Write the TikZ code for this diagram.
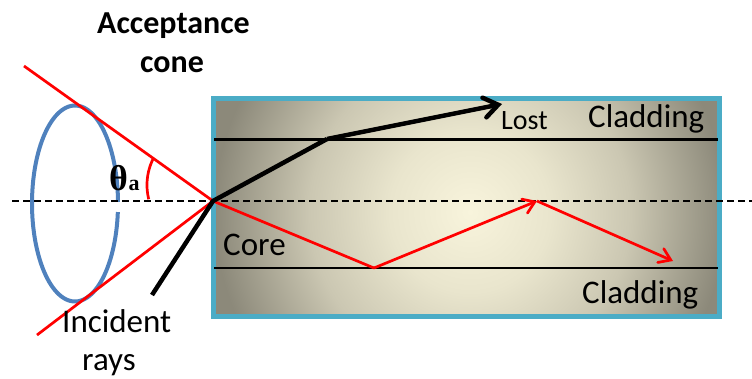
\documentclass[tikz,border=0pt]{standalone}
\usepackage{fontspec}
\setmainfont{Carlito}
\newfontfamily\thetafont{Liberation Serif}
\usetikzlibrary{arrows.meta}
\definecolor{fibreedge}{RGB}{75,172,198}
\definecolor{ellblue}{RGB}{79,129,189}
\definecolor{glowin}{RGB}{248,244,220}
\definecolor{glowa}{RGB}{233,229,205}
\definecolor{glowb}{RGB}{203,199,178}
\definecolor{glowout}{RGB}{140,137,122}
\definecolor{rayred}{RGB}{255,0,0}
\pgfdeclareradialshading{fibreglow}{\pgfpoint{0bp}{0bp}}{color(0bp)=(glowin); color(80bp)=(glowa); color(160bp)=(glowb); color(255bp)=(glowout); color(300bp)=(glowout)}
\tikzset{
  txt/.style={inner sep=0pt, anchor=base west, font=\fontsize{33}{40}\selectfont},
  redray/.style={draw=rayred, line width=2.7pt, line join=round},
  redtip/.style={-{Straight Barb[length=11pt,width=15pt,line cap=round]}},
  blackray/.style={draw=black, line width=4.5pt, line join=round},
  cladline/.style={draw=black, line width=2.8pt},
  axisline/.style={draw=black, line width=1.8pt, dash pattern=on 7pt off 4pt}
}
\begin{document}
\begin{tikzpicture}[x=1pt,y=-1pt]
\useasboundingbox (0,0) rectangle (752,378);
% key points
\coordinate (launch) at (213,201);
\coordinate (coneA) at (24,66);
\coordinate (coneB) at (37,335);
\coordinate (bounce1) at (374,268);
\coordinate (bounce2) at (537,201);
\coordinate (redend) at (673,261);
\coordinate (inc) at (152,295);
\coordinate (bend) at (327,139);
\coordinate (lostend) at (502,104);
\coordinate (axL) at (12,201);
\coordinate (axR) at (752,201);
\coordinate (boxNW) at (213,98.5);
\coordinate (boxSE) at (719,316);
\coordinate (glowc) at (470,212);
\coordinate (clTL) at (214,139.5);
\coordinate (clTR) at (718,139.5);
\coordinate (clBL) at (214,268);
\coordinate (clBR) at (718,268);
% acceptance cone ellipse
\draw[ellblue, line width=4pt] plot[smooth, domain=5:359, samples=120] ({75+43*cos(\x)},{203.5+98*sin(\x)});
% fibre box
\begin{scope}
  \clip (boxNW) rectangle (boxSE);
  \node[inner sep=0pt, outer sep=0pt] (glow) at (glowc) {\pgfuseshading{fibreglow}};
\end{scope}
\draw[fibreedge, line width=5pt] (boxNW) rectangle (boxSE);
\draw[cladline] (clTL) -- (clTR);
\draw[cladline] (clBL) -- (clBR);
% axis
\draw[axisline] (axL) -- (axR);
% cone lines and angle
\draw[redray] (coneA) -- (launch) -- (coneB);
\draw[redray] plot[smooth, domain=166:207, samples=30] ({206+59*cos(\x)},{185+59*sin(\x)});
% guided ray
\draw[redray] (launch) -- (bounce1);
\draw[redray, redtip] (bounce1) -- (bounce2);
\draw[redray, redtip] (bounce2) -- (redend);
% lost ray
\draw[blackray] (inc) -- (launch) -- (bend);
\draw[blackray, -{Straight Barb[length=14pt,width=20pt,line cap=round]}] (bend) -- (lostend);
% labels
\node[txt, anchor=base, font=\fontsize{32}{40}\selectfont\bfseries] (acc) at (173.5,33) {Acceptance};
\node[txt, anchor=base, font=\fontsize{32}{40}\selectfont\bfseries] (cone) at (172,72) {cone};
\node[txt, font=\fontsize{28}{34}\selectfont] (lost) at (501,129) {Lost};
\node[txt] (cladtop) at (588,127) {Cladding};
\node[txt] (cladbot) at (582,303) {Cladding};
\node[txt] (core) at (223,255) {Core};
\node[txt] (incident) at (62,332) {Incident};
\node[txt] (rays) at (82,370) {rays};
\node[txt, font=\fontsize{36}{40}\thetafont\bfseries] (theta) at (109,190) {θ};
\node[txt, font=\fontsize{22}{26}\thetafont\bfseries] (thetasub) at (128.5,190) {a};
\end{tikzpicture}
\end{document}
